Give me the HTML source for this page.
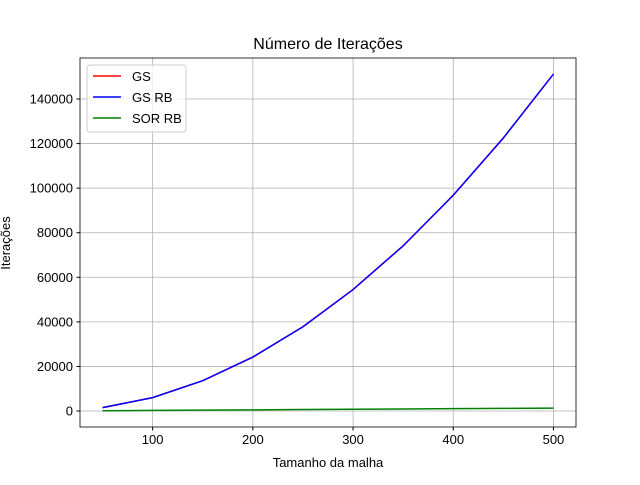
<!DOCTYPE html>
<html><head><meta charset="utf-8"><style>
body{margin:0;background:#fff;}
svg{font-family:"Liberation Sans","DejaVu Sans",sans-serif;}
</style></head><body>
<svg width="640" height="480" id="c">
<rect width="640" height="480" fill="#fff"/>
<text x="328" y="49" font-size="16" text-anchor="middle">Número de Iterações</text>
<text x="328" y="467" font-size="13" text-anchor="middle">Tamanho da malha</text>
<text transform="translate(10,243) rotate(-90)" font-size="13" text-anchor="middle">Iterações</text>
<g id="grid"></g><g id="series"></g><g id="axes"></g>
<g>
<rect x="87" y="65" width="99" height="67" fill="#fff" fill-opacity="0.8" stroke="#ccc" rx="3"/>
<line x1="93" y1="76" x2="121" y2="76" stroke="red" stroke-width="1.5"/><text x="132" y="81" font-size="13">GS</text>
<line x1="93" y1="97" x2="121" y2="97" stroke="blue" stroke-width="1.5"/><text x="132" y="102" font-size="13">GS RB</text>
<line x1="93" y1="118" x2="121" y2="118" stroke="green" stroke-width="1.5"/><text x="132" y="123" font-size="13">SOR RB</text>
</g>
</svg>
<script>
const sizes=[50,100,150,200,250,300,350,400,450,500];
const gs=[1500,6000,13600,24200,37800,54500,74100,96800,122500,151200];
const gsrb=[1500,6000,13600,24200,37800,54500,74100,96800,122500,151200];
const sorrb=[130,260,390,520,650,780,910,1040,1170,1300];
const xTicks=[100,200,300,400,500];
const yTicks=[0,20000,40000,60000,80000,100000,120000,140000];
const L=80,R=576,T=58,B=427;
const x=v=>L+(v-27.5)*(R-L)/495;
const y=v=>411-v*312/140000;
const NS='http://www.w3.org/2000/svg';
function mk(t,a,p){const e=document.createElementNS(NS,t);for(const k in a)e.setAttribute(k,a[k]);p.appendChild(e);return e;}
const g=document.getElementById('grid'),ax=document.getElementById('axes'),s=document.getElementById('series');
xTicks.forEach(v=>{
 const l=mk('line',{x1:x(v),x2:x(v),y1:T,y2:B,stroke:'#b0b0b0','stroke-width':0.8},g);
 
 
 mk('line',{x1:x(v),x2:x(v),y1:B,y2:B+3.5,stroke:'#000'},ax);
 const t=mk('text',{x:x(v),y:B+17,'font-size':13,'text-anchor':'middle'},ax);t.textContent=v;
 
 
});
yTicks.forEach(v=>{
 const l=mk('line',{x1:L,x2:R,y1:y(v),y2:y(v),stroke:'#b0b0b0','stroke-width':0.8},g);
 
 
 mk('line',{x1:L-3.5,x2:L,y1:y(v),y2:y(v),stroke:'#000'},ax);
 const t=mk('text',{x:L-7,y:y(v)+4.5,'font-size':13,'text-anchor':'end'},ax);t.textContent=v;
 
 
});
const fr=mk('rect',{x:L,y:T,width:R-L,height:B-T,fill:'none',stroke:'#000','stroke-width':0.8},ax);


[[gs,'red','gs-line'],[gsrb,'blue','gs-rb-line'],[sorrb,'green','sor-rb-line']].forEach(([d,c,n])=>{
 const p=mk('polyline',{points:d.map((v,i)=>x(sizes[i])+','+y(v)).join(' '),fill:'none',stroke:c,'stroke-width':1.5},s);
 
 
});
</script>
</body></html>
